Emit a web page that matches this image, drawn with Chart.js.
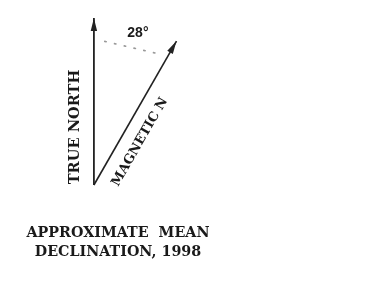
<!DOCTYPE html>
<html><head><meta charset="utf-8">
<script src="https://cdn.jsdelivr.net/npm/chart.js@4.4.1/dist/chart.umd.min.js"></script>
<style>html,body{margin:0;padding:0;background:#fff}#wrap{width:367px;height:308px}</style>
</head><body><div id="wrap"><canvas id="c" width="367" height="308"></canvas></div>
<script>
// Data
const declinationDeg = 28;          // magnetic declination, degrees east
const trueNorthLength = 167;        // length of true north arrow
const magneticLength = 163;         // length of magnetic north arrow
const arcRadius = 144;              // radius of dotted angle marker
const arcAngles = [4, 24];          // dotted marker start/end angle, degrees
const labels = ["TRUE NORTH", "MAGNETIC N", "28°"];
const captionLines = ["APPROXIMATE  MEAN", "DECLINATION, 1998"];

const rad = d => d * Math.PI / 180;
const polar = (r, d) => ({x: r*Math.sin(rad(d)), y: r*Math.cos(rad(d))});
const tnPts = [{x:0,y:0}, polar(trueNorthLength, 0)];
const mnPts = [{x:0,y:0}, polar(magneticLength, declinationDeg)];
const arcPts = [polar(arcRadius, arcAngles[0]), polar(arcRadius, arcAngles[1])];

const ink = '#222';
const serif = '"DejaVu Serif", "Liberation Serif", serif';
const arrowPlugin = {
  id:'decl',
  afterDatasetsDraw(chart){
    const {ctx, scales:{x,y}} = chart;
    const px = p => [x.getPixelForValue(p.x), y.getPixelForValue(p.y)];
    ctx.save();
    [tnPts, mnPts].forEach(pts=>{
      const [x0,y0] = px(pts[0]); const [x1,y1] = px(pts[1]);
      const a = Math.atan2(y1-y0, x1-x0);
      const L = 13, W = 3.2;
      ctx.beginPath();
      ctx.moveTo(x1,y1);
      ctx.lineTo(x1 - L*Math.cos(a) + W*Math.sin(a), y1 - L*Math.sin(a) - W*Math.cos(a));
      ctx.lineTo(x1 - L*Math.cos(a) - W*Math.sin(a), y1 - L*Math.sin(a) + W*Math.cos(a));
      ctx.closePath(); ctx.fillStyle = ink; ctx.fill();
    });
    ctx.fillStyle = '#1a1a1a';
    ctx.textAlign='center'; ctx.textBaseline='middle';
    const [ox,oy] = px({x:0,y:0});
    ctx.save();
    ctx.translate(ox-19, oy-58);
    ctx.rotate(-Math.PI/2);
    ctx.font = 'bold 14.6px ' + serif;
    ctx.fillText(labels[0],0,0);
    ctx.restore();
    const [mx1,my1] = px(mnPts[1]);
    const ang = Math.atan2(my1-oy, mx1-ox);
    ctx.save();
    ctx.translate(ox+46, oy-43);
    ctx.rotate(ang);
    ctx.font = 'bold 13px ' + serif;
    ctx.fillText(labels[1],0,0);
    ctx.restore();
    ctx.font = 'bold 14px "Liberation Sans", Arial, sans-serif';
    ctx.fillText(labels[2], ox+44, oy-152);
    ctx.font = 'bold 14.3px ' + serif;
    ctx.fillText(captionLines[0], 118, 233);
    ctx.fillText(captionLines[1], 118, 252);
    ctx.restore();
  }
};

new Chart(document.getElementById('c'), {
  type:'scatter',
  data:{datasets:[
    {data:tnPts, showLine:true, borderColor:ink, borderWidth:1.8, pointRadius:0},
    {data:mnPts, showLine:true, borderColor:ink, borderWidth:1.6, pointRadius:0},
    {data:arcPts, showLine:true, borderColor:'#999', borderWidth:1.6, borderDash:[1.5,8.5], borderCapStyle:'round', pointRadius:0}
  ]},
  options:{
    responsive:false, animation:false,
    layout:{padding:0},
    plugins:{legend:{display:false}, tooltip:{enabled:false}},
    scales:{
      x:{display:false, min:-87, max:253},
      y:{display:false, min:-123, max:185}
    }
  },
  plugins:[arrowPlugin]
});
</script></body></html>
